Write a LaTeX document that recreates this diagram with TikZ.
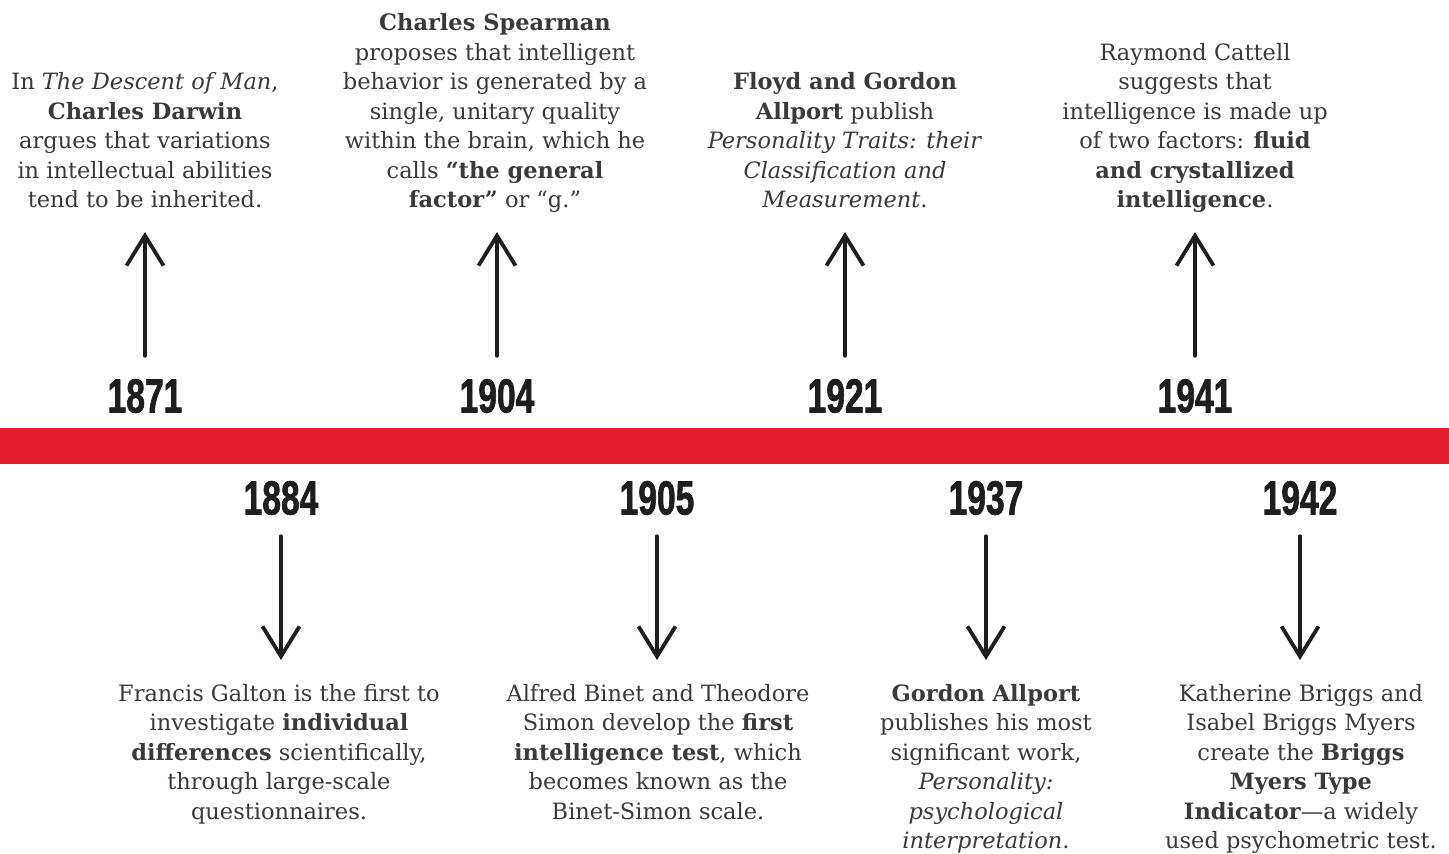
\documentclass[tikz,border=0pt]{standalone}
\usepackage{fontspec}
\setmainfont{DejaVu Serif}
\newfontfamily\yearfont[FakeStretch=0.7, BoldFeatures={FakeBold=1.3}]{Liberation Sans}
\usetikzlibrary{arrows.meta, positioning}
\definecolor{barred}{HTML}{E31E2F}
\definecolor{inktext}{HTML}{3A3A3A}
\definecolor{inkyear}{HTML}{1E1E1E}

\begin{document}
\begin{tikzpicture}[
    x=1pt, y=-1pt,
    note/.style={align=center, inner sep=0pt, text=inktext,
                 font=\fontsize{22.5}{29.5}\selectfont},
    noteup/.style={note, anchor=south, text depth=0pt},
    notedown/.style={note, anchor=north},
    year/.style={inner sep=0pt, text=inkyear,
                 font=\yearfont\bfseries\fontsize{48}{48}\selectfont},
    hand/.style={line width=3.8pt, line cap=round, draw=inkyear,
                 -{Straight Barb[length=30pt, width=37pt, line width=3.8pt]}}
]
\useasboundingbox (0,0) rectangle (1449,854);
%% Timeline bar
\fill[barred] (0,428) rectangle (1449,464);
%% Years above the bar
\node[year] (y1871) at (145,396) {1871};
\node[year] (y1904) at (497,396) {1904};
\node[year] (y1921) at (845,396) {1921};
\node[year] (y1941) at (1195,396) {1941};
%% Years below the bar
\node[year] (y1884) at (281,498) {1884};
\node[year] (y1905) at (657,498) {1905};
\node[year] (y1937) at (986,498) {1937};
\node[year] (y1942) at (1300,498) {1942};
%% Notes above
\node[noteup] (n1871) at (145,208) {
    In \textit{The Descent of Man},\\
    \textbf{Charles Darwin}\\
    argues that variations\\
    in intellectual abilities\\
    tend to be inherited.
};
\node[noteup] (n1904) at (495,208) {
    \textbf{Charles Spearman}\\
    proposes that intelligent\\
    behavior is generated by a\\
    single, unitary quality\\
    within the brain, which he\\
    calls \textbf{“the general}\\
    \textbf{factor”} or “g.”
};
\node[noteup] (n1921) at (845,208) {
    \textbf{Floyd and Gordon}\\
    \textbf{Allport} publish\\
    \textit{Personality Traits: their}\\
    \textit{Classification and}\\
    \textit{Measurement}.
};
\node[noteup] (n1941) at (1195,208) {
    Raymond Cattell\\
    suggests that\\
    intelligence is made up\\
    of two factors: \textbf{fluid}\\
    \textbf{and crystallized}\\
    \textbf{intelligence}.
};
%% Notes below
\node[notedown] (n1884) at (279,684) {
    Francis Galton is the first to\\
    investigate \textbf{individual}\\
    \textbf{differences} scientifically,\\
    through large-scale\\
    questionnaires.
};
\node[notedown] (n1905) at (658,684) {
    Alfred Binet and Theodore\\
    Simon develop the \textbf{first}\\
    \textbf{intelligence test}, which\\
    becomes known as the\\
    Binet-Simon scale.
};
\node[notedown] (n1937) at (986,684) {
    \textbf{Gordon Allport}\\
    publishes his most\\
    significant work,\\
    \textit{Personality:}\\
    \textit{psychological}\\
    \textit{interpretation}.
};
\node[notedown] (n1942) at (1301,684) {
    Katherine Briggs and\\
    Isabel Briggs Myers\\
    create the \textbf{Briggs}\\
    \textbf{Myers Type}\\
    \textbf{Indicator}—a widely\\
    used psychometric test.
};
%% Hand-drawn arrows: years to notes
\foreach \yr in {1871,1904,1921,1941}
    \draw[hand, shorten <=23pt, shorten >=24pt]
        (y\yr.north) -- (y\yr.north |- n\yr.south);
\foreach \yr in {1884,1905,1937,1942}
    \draw[hand, shorten <=21pt, shorten >=24pt]
        (y\yr.south) -- (y\yr.south |- n\yr.north);
\end{tikzpicture}
\end{document}
